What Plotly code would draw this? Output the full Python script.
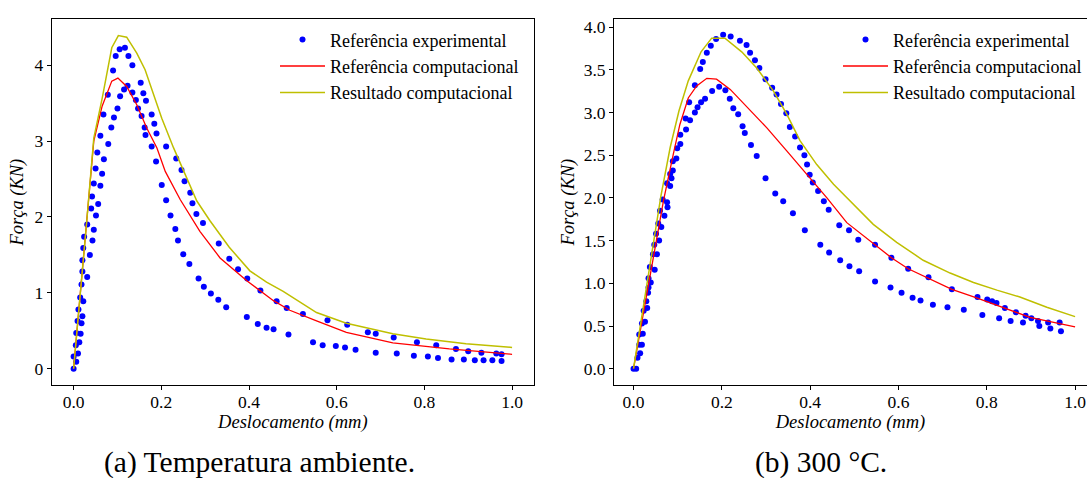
import plotly.graph_objects as go

W, H = 1087, 478

# ---------------- data: (a) Temperatura ambiente ----------------
exp_a_x = [0.000, 0.006, 0.000, 0.010, 0.005, 0.013, 0.006, 0.016, 0.009, 0.018, 0.011, 0.020,
           0.015, 0.022, 0.018, 0.031, 0.020, 0.037, 0.020, 0.022, 0.043, 0.024, 0.046, 0.031,
           0.051, 0.040, 0.056, 0.042, 0.061, 0.046, 0.065, 0.050, 0.069, 0.054, 0.079, 0.061,
           0.086, 0.092, 0.068, 0.100, 0.078, 0.106, 0.115, 0.123, 0.090, 0.096, 0.105, 0.117,
           0.125, 0.134, 0.134, 0.153, 0.142, 0.159, 0.165, 0.147, 0.155, 0.178, 0.162, 0.184,
           0.164, 0.189, 0.178, 0.211, 0.188, 0.234, 0.246, 0.201, 0.253, 0.211, 0.266, 0.221,
           0.271, 0.280, 0.232, 0.238, 0.250, 0.264, 0.285, 0.297, 0.313, 0.330, 0.348, 0.395,
           0.420, 0.440, 0.456, 0.490, 0.295, 0.331, 0.355, 0.375, 0.396, 0.426, 0.463, 0.486,
           0.523, 0.579, 0.624, 0.671, 0.689, 0.730, 0.783, 0.827, 0.872, 0.900, 0.930, 0.964,
           0.976, 0.546, 0.568, 0.598, 0.619, 0.643, 0.689, 0.737, 0.776, 0.808, 0.831, 0.862,
           0.890, 0.915, 0.935, 0.955, 0.976]
exp_a_y = [0.00, 0.09, 0.16, 0.20, 0.31, 0.35, 0.47, 0.46, 0.63, 0.60, 0.78, 0.69,
           0.94, 0.89, 1.11, 1.21, 1.28, 1.50, 1.43, 1.59, 1.69, 1.74, 1.83, 1.90,
           2.02, 2.11, 2.17, 2.27, 2.41, 2.44, 2.57, 2.64, 2.76, 2.85, 2.96, 3.07,
           3.18, 3.31, 3.35, 3.43, 3.61, 3.59, 3.68, 3.73, 3.93, 4.12, 4.21, 4.23,
           4.12, 4.00, 3.64, 3.77, 3.54, 3.63, 3.53, 3.43, 3.33, 3.35, 3.18, 3.23,
           3.08, 3.10, 2.93, 2.93, 2.73, 2.77, 2.62, 2.42, 2.47, 2.22, 2.32, 2.02,
           2.18, 2.04, 1.84, 1.69, 1.51, 1.38, 1.19, 1.08, 0.99, 0.91, 0.81, 0.68,
           0.59, 0.54, 0.52, 0.45, 1.92, 1.65, 1.45, 1.31, 1.19, 1.03, 0.89, 0.80,
           0.72, 0.64, 0.58, 0.48, 0.46, 0.41, 0.35, 0.31, 0.26, 0.23, 0.21, 0.20,
           0.19, 0.35, 0.31, 0.30, 0.28, 0.25, 0.21, 0.20, 0.17, 0.16, 0.14, 0.12,
           0.12, 0.11, 0.11, 0.11, 0.10]

refc_a_x = [0.0, 0.015, 0.030, 0.046, 0.065, 0.087, 0.101, 0.121, 0.144, 0.167, 0.190, 0.209,
            0.243, 0.273, 0.288, 0.334, 0.395, 0.455, 0.493, 0.554, 0.622, 0.728, 0.857, 1.0]
refc_a_y = [0.0, 0.95, 1.95, 3.00, 3.46, 3.79, 3.83, 3.72, 3.48, 3.17, 2.91, 2.60,
            2.23, 1.95, 1.81, 1.46, 1.16, 0.90, 0.77, 0.63, 0.48, 0.34, 0.26, 0.19]

res_a_x = [0.0, 0.015, 0.030, 0.046, 0.065, 0.087, 0.102, 0.121, 0.144, 0.163, 0.201, 0.228,
           0.258, 0.281, 0.311, 0.355, 0.402, 0.440, 0.478, 0.554, 0.622, 0.728, 0.804, 0.895, 1.0]
res_a_y = [0.0, 0.95, 1.95, 3.04, 3.56, 4.23, 4.39, 4.37, 4.16, 3.94, 3.30, 2.91,
           2.51, 2.21, 1.95, 1.60, 1.29, 1.14, 1.02, 0.74, 0.60, 0.46, 0.39, 0.33, 0.28]

# ---------------- data: (b) 300 °C ----------------
exp_b_x = [0.000, 0.006, 0.009, 0.015, 0.013, 0.019, 0.013, 0.021, 0.019, 0.026, 0.023, 0.031,
           0.029, 0.033, 0.034, 0.039, 0.034, 0.037, 0.048, 0.044, 0.053, 0.047, 0.058, 0.051,
           0.063, 0.056, 0.070, 0.060, 0.077, 0.076, 0.066, 0.083, 0.076, 0.086, 0.083, 0.089,
           0.089, 0.097, 0.099, 0.106, 0.106, 0.119, 0.118, 0.128, 0.139, 0.145, 0.126, 0.153,
           0.162, 0.139, 0.151, 0.157, 0.166, 0.175, 0.187, 0.203, 0.220, 0.241, 0.256, 0.264,
           0.275, 0.285, 0.299, 0.314, 0.324, 0.334, 0.346, 0.354, 0.366, 0.377, 0.387, 0.393,
           0.399, 0.406, 0.418, 0.431, 0.442, 0.178, 0.194, 0.208, 0.218, 0.226, 0.237, 0.247,
           0.252, 0.266, 0.279, 0.299, 0.321, 0.339, 0.361, 0.388, 0.423, 0.443, 0.468, 0.489,
           0.511, 0.466, 0.488, 0.509, 0.547, 0.584, 0.622, 0.668, 0.721, 0.779, 0.801, 0.812,
           0.822, 0.841, 0.866, 0.888, 0.901, 0.916, 0.939, 0.965, 0.547, 0.582, 0.607, 0.632,
           0.650, 0.678, 0.711, 0.748, 0.790, 0.828, 0.854, 0.882, 0.919, 0.944, 0.968]
exp_b_y = [0.00, 0.00, 0.13, 0.18, 0.28, 0.28, 0.40, 0.41, 0.53, 0.55, 0.68, 0.71,
           0.79, 0.89, 0.95, 1.01, 1.06, 1.19, 1.16, 1.34, 1.34, 1.45, 1.50, 1.58,
           1.66, 1.70, 1.79, 1.85, 1.89, 1.95, 1.98, 2.14, 2.17, 2.23, 2.28, 2.32,
           2.43, 2.46, 2.58, 2.63, 2.74, 2.80, 2.93, 2.91, 3.00, 3.06, 3.12, 3.12,
           3.16, 3.32, 3.51, 3.59, 3.70, 3.78, 3.86, 3.91, 3.89, 3.84, 3.79, 3.70,
           3.61, 3.52, 3.39, 3.29, 3.21, 3.10, 2.99, 2.83, 2.72, 2.59, 2.50, 2.39,
           2.27, 2.18, 2.08, 1.96, 1.86, 3.25, 3.30, 3.26, 3.16, 3.05, 2.98, 2.84,
           2.76, 2.62, 2.49, 2.23, 2.05, 1.96, 1.82, 1.62, 1.45, 1.36, 1.27, 1.20,
           1.14, 1.68, 1.62, 1.51, 1.45, 1.30, 1.17, 1.07, 0.93, 0.84, 0.81, 0.79,
           0.77, 0.71, 0.66, 0.62, 0.59, 0.56, 0.54, 0.54, 1.02, 0.95, 0.89, 0.83,
           0.80, 0.75, 0.72, 0.69, 0.63, 0.59, 0.56, 0.54, 0.50, 0.47, 0.44]

refc_b_x = [0.0, 0.030, 0.068, 0.090, 0.105, 0.124, 0.143, 0.166, 0.188, 0.219, 0.264, 0.302,
            0.347, 0.392, 0.438, 0.483, 0.543, 0.584, 0.622, 0.668, 0.721, 0.777, 0.838, 0.898, 1.0]
refc_b_y = [0.0, 0.88, 1.97, 2.51, 2.86, 3.17, 3.31, 3.40, 3.39, 3.27, 3.02, 2.82,
            2.55, 2.28, 2.00, 1.71, 1.46, 1.30, 1.17, 1.06, 0.93, 0.83, 0.71, 0.60, 0.49]

res_b_x = [0.0, 0.030, 0.062, 0.083, 0.103, 0.124, 0.153, 0.177, 0.207, 0.245, 0.279, 0.317,
           0.347, 0.377, 0.415, 0.453, 0.494, 0.543, 0.596, 0.656, 0.717, 0.770, 0.823, 0.875,
           0.936, 1.0]
res_b_y = [0.0, 0.98, 2.02, 2.59, 3.02, 3.37, 3.71, 3.87, 3.87, 3.71, 3.52, 3.25,
           2.98, 2.67, 2.39, 2.16, 1.95, 1.69, 1.48, 1.27, 1.12, 1.01, 0.92, 0.84,
           0.72, 0.61]

x_ticks = [0.0, 0.2, 0.4, 0.6, 0.8, 1.0]
y_ticks_a = [0, 1, 2, 3, 4]
y_ticks_b = [0.0, 0.5, 1.0, 1.5, 2.0, 2.5, 3.0, 3.5, 4.0]

names = ["Referência experimental", "Referência computacional", "Resultado computacional"]
captions = ["(a) Temperatura ambiente.", "(b) 300 °C."]

BLUE, RED, YEL = "#0000ff", "#ff0000", "#bfbf00"
FONT = "'Liberation Serif', 'Times New Roman', Tinos, Times, serif"

fig = go.Figure()

def add_panel(ex, ey, rx, ry, sx, sy, xa, ya, leg, grp):
    fig.add_trace(go.Scatter(x=ex, y=ey, mode="markers", name=names[0],
                             marker=dict(color=BLUE, size=6, line=dict(width=0)),
                             xaxis=xa, yaxis=ya, legend=leg, legendgroup=grp + "1"))
    fig.add_trace(go.Scatter(x=rx, y=ry, mode="lines", name=names[1],
                             line=dict(color=RED, width=1.3),
                             xaxis=xa, yaxis=ya, legend=leg, legendgroup=grp + "2"))
    fig.add_trace(go.Scatter(x=sx, y=sy, mode="lines", name=names[2],
                             line=dict(color=YEL, width=1.5),
                             xaxis=xa, yaxis=ya, legend=leg, legendgroup=grp + "3"))

add_panel(exp_a_x, exp_a_y, refc_a_x, refc_a_y, res_a_x, res_a_y, "x", "y", "legend", "a")
add_panel(exp_b_x, exp_b_y, refc_b_x, refc_b_y, res_b_x, res_b_y, "x2", "y2", "legend2", "b")

ydom = [93 / H, 461 / H]
axis_common = dict(showgrid=False, zeroline=False, showline=True, linecolor="black",
                   linewidth=1, ticks="outside", ticklen=4, tickwidth=1, tickcolor="black",
                   tickfont=dict(family=FONT, size=17.5, color="black"))
title_font = dict(family=FONT, size=18.5, color="black")

fig.update_layout(
    width=W, height=H, margin=dict(l=0, r=0, t=0, b=0),
    paper_bgcolor="white", plot_bgcolor="white",
    font=dict(family=FONT, color="black"),
    xaxis=dict(domain=[51.7 / W, 534 / W], range=[-0.05, 1.05], tickvals=x_ticks,
               tickformat=".1f", mirror=True, anchor="y", ticklabelstandoff=-3,
               title=dict(text="<i>Deslocamento (mm)</i>", font=title_font, standoff=3),
               **axis_common),
    yaxis=dict(domain=ydom, range=[-0.22, 4.61], tickvals=y_ticks_a, tickformat="d",
               mirror=True, anchor="x",
               title=dict(text="<i>Força (KN)</i>", font=title_font, standoff=5),
               **axis_common),
    xaxis2=dict(domain=[614 / W, 1.0], range=[-0.0442, 1.027], tickvals=x_ticks,
                tickformat=".1f", mirror=True, anchor="y2", ticklabelstandoff=-3,
                title=dict(text="<i>Deslocamento (mm)</i>", font=title_font, standoff=3),
                **axis_common),
    yaxis2=dict(domain=ydom, range=[-0.195, 4.095], tickvals=y_ticks_b, tickformat=".1f",
                mirror=False, anchor="x2",
                title=dict(text="<i>Força (KN)</i>", font=title_font, standoff=4),
                **axis_common),
    legend=dict(x=275 / W, y=1 - 19.5 / H, xanchor="left", yanchor="top",
                bgcolor="rgba(0,0,0,0)", font=dict(family=FONT, size=18, color="black"),
                itemwidth=45, tracegroupgap=2, traceorder="normal"),
    legend2=dict(x=838 / W, y=1 - 19.5 / H, xanchor="left", yanchor="top",
                 bgcolor="rgba(0,0,0,0)", font=dict(family=FONT, size=18, color="black"),
                 itemwidth=45, tracegroupgap=2, traceorder="normal"),
    showlegend=True,
)

fig.add_annotation(x=259 / W, y=1 - 462 / H, xref="paper", yref="paper", text=captions[0],
                   showarrow=False, font=dict(family=FONT, size=29.5, color="black"),
                   xanchor="center", yanchor="middle")
fig.add_annotation(x=821 / W, y=1 - 462 / H, xref="paper", yref="paper", text=captions[1],
                   showarrow=False, font=dict(family=FONT, size=29.5, color="black"),
                   xanchor="center", yanchor="middle")

fig.write_html("out.html")
